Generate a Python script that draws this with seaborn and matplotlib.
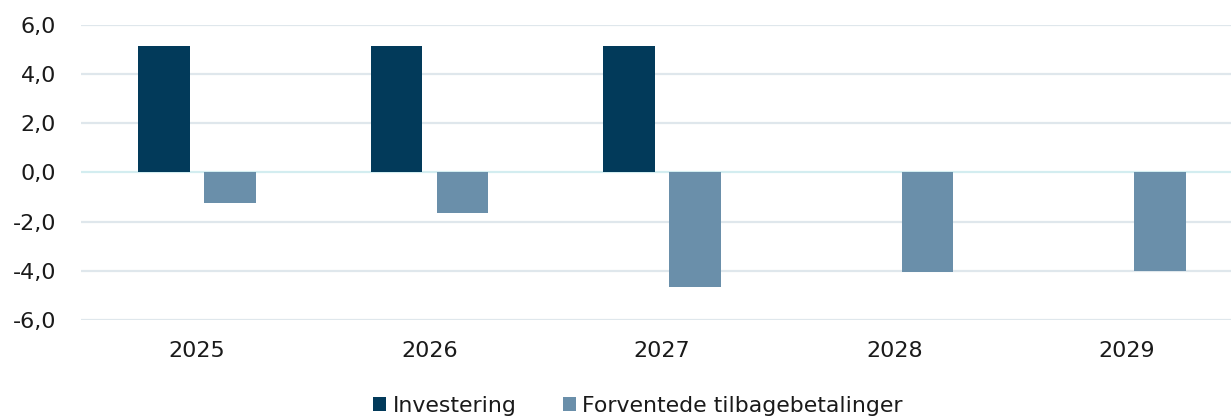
import matplotlib
matplotlib.use("Agg")
import matplotlib.pyplot as plt
import seaborn as sns
import pandas as pd

years = ["2025", "2026", "2027", "2028", "2029"]
investering = [5.15, 5.15, 5.15, 0.0, 0.0]
tilbagebetalinger = [-1.23, -1.64, -4.67, -4.06, -4.0]
series_names = ["Investering", "Forventede tilbagebetalinger"]
colors = ["#023A5A", "#6A8FAA"]
y_ticks = [-6, -4, -2, 0, 2, 4, 6]

sns.set_theme(style="white")
plt.rcParams["font.family"] = ["DejaVu Sans"]

df = pd.DataFrame({
    "year": years * 2,
    "value": investering + tilbagebetalinger,
    "series": [series_names[0]] * len(years) + [series_names[1]] * len(years),
})

fig = plt.figure(figsize=(12.31, 4.16), dpi=100)
ax = fig.add_axes([81 / 1231, 96 / 416, (1243 - 81) / 1231, 295 / 416])

sns.barplot(data=df, x="year", y="value", hue="series", order=years,
            hue_order=series_names, palette=colors, saturation=1,
            width=0.568, gap=0.22, linewidth=0, errorbar=None, ax=ax,
            legend=True, zorder=3)

ax.set_ylim(-6, 6)
ax.set_yticks(y_ticks)
ax.set_yticklabels([f"{v:.1f}".replace(".", ",") for v in y_ticks])
for v in y_ticks:
    ax.axhline(v, color="#D3EDF0" if v == 0 else "#DFE7EC", lw=1.6, zorder=1)
ax.set_xlim(-0.5, len(years) - 0.5)
ax.set_xlabel("")
ax.set_ylabel("")
for s in ax.spines.values():
    s.set_visible(False)
ax.tick_params(axis="both", length=0, labelsize=16, colors="#1a1a1a")
ax.tick_params(axis="y", pad=18)
ax.tick_params(axis="x", pad=15)

handles, labels = ax.get_legend_handles_labels()
ax.get_legend().remove()
leg = fig.legend(handles, labels, loc="center", bbox_to_anchor=(638 / 1231, 10 / 416),
                 ncol=2, frameon=False, fontsize=15.8, handlelength=0.6,
                 handleheight=0.6, handletextpad=0.3, columnspacing=2.1,
                 borderaxespad=0, borderpad=0)
for t in leg.get_texts():
    t.set_color("#1a1a1a")

fig.savefig("out.png", dpi=100)
